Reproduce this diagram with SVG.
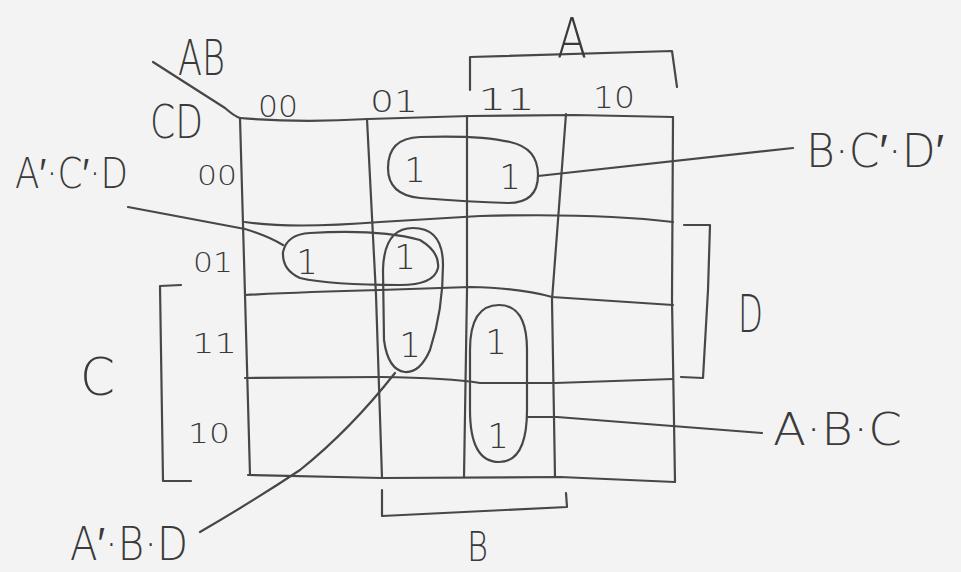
<svg xmlns="http://www.w3.org/2000/svg" width="961" height="572" viewBox="0 0 961 572">
<style>
.ink{fill:none;stroke:#474747;stroke-width:2.2;stroke-linecap:round;stroke-linejoin:round}
.t{font-family:"DejaVu Sans","Liberation Sans",sans-serif;font-weight:200;fill:#3a3a3a}
.one{font-size:34px}
.hd{font-size:30px}
.rw{font-size:26px}
</style>
<rect x="0" y="0" width="961" height="572" fill="#f3f3f3"/>
<g id="grid">
<path class="ink" d="M240,118 Q300,123 368,119 L470,116 L575,115 L673,117"/>
<path class="ink" d="M240,118 L245,295 L250,475"/>
<path class="ink" d="M367,119 L376,295 L382,478"/>
<path class="ink" d="M467,116 L467,290 L464,477"/>
<path class="ink" d="M566,114 L552,300 L555,477"/>
<path class="ink" d="M673,117 L672,300 L675,482"/>
<path class="ink" d="M245,222 Q290,229 380,222 L480,216 Q600,213 673,222"/>
<path class="ink" d="M245,295 Q300,292 380,290 L470,287 Q520,288 552,297 L673,305"/>
<path class="ink" d="M245,378 L380,377 Q450,378 480,383 L555,383 Q620,381 673,379"/>
<path class="ink" d="M248,475 L382,478 L560,477 L675,482"/>
<path class="ink" d="M153,62 Q200,92 225,108 Q234,116 240,118"/>
</g>
<g id="brackets">
<path class="ink" d="M470,90 L470,57 Q570,54 672,51 L677,87"/>
<path class="ink" d="M684,225 L710,225 L708,290 L703,378 L681,377"/>
<path class="ink" d="M181,285 L160,286 L163,481 L191,481"/>
<path class="ink" d="M382,490 L382,516 Q470,512 567,507 L566,493"/>
</g>
<g id="headers">
<text class="t" x="178" y="75" font-size="50" textLength="47" lengthAdjust="spacingAndGlyphs">AB</text>
<text class="t" x="150" y="138" font-size="46" textLength="53" lengthAdjust="spacingAndGlyphs">CD</text>
<text class="t hd" x="258" y="117" textLength="40" lengthAdjust="spacingAndGlyphs">00</text>
<text class="t hd" x="370" y="112" textLength="48" lengthAdjust="spacingAndGlyphs">01</text>
<text class="t hd" x="478" y="110" textLength="57" lengthAdjust="spacingAndGlyphs">11</text>
<text class="t hd" x="593" y="108" textLength="42" lengthAdjust="spacingAndGlyphs">10</text>
<text class="t rw" x="197" y="185" textLength="40" lengthAdjust="spacingAndGlyphs">00</text>
<text class="t rw" x="193" y="272" textLength="40" lengthAdjust="spacingAndGlyphs">01</text>
<text class="t rw" x="192" y="353" textLength="45" lengthAdjust="spacingAndGlyphs">11</text>
<text class="t rw" x="188" y="443" textLength="42" lengthAdjust="spacingAndGlyphs">10</text>
<text class="t" x="557" y="57" font-size="56" textLength="30" lengthAdjust="spacingAndGlyphs">A</text>
<text class="t" x="738" y="332" font-size="52" textLength="25" lengthAdjust="spacingAndGlyphs">D</text>
<text class="t" x="80" y="395" font-size="52" textLength="35" lengthAdjust="spacingAndGlyphs">C</text>
<text class="t" x="467" y="561" font-size="40" textLength="21" lengthAdjust="spacingAndGlyphs">B</text>
</g>
<g id="cells">
<text class="t one" x="415" y="182" text-anchor="middle">1</text>
<text class="t one" x="510" y="189" text-anchor="middle">1</text>
<text class="t one" x="307" y="274" text-anchor="middle">1</text>
<text class="t one" x="405" y="269" text-anchor="middle">1</text>
<text class="t one" x="410" y="357" text-anchor="middle">1</text>
<text class="t one" x="496" y="354" text-anchor="middle">1</text>
<text class="t one" x="498" y="448" text-anchor="middle">1</text>
</g>
<g id="loop-bcd">
<path class="ink" d="M420,137 Q480,135 510,142 Q538,148 538,175 Q538,203 508,203 Q470,202 420,198 Q388,195 388,168 Q388,138 420,137 Z"/>
<text class="t" x="806" y="167" font-size="46" textLength="138" lengthAdjust="spacingAndGlyphs">B·C′·D′</text>
</g>
<g id="loop-acd">
<path class="ink" d="M310,233 Q380,229 420,240 Q440,252 438,268 Q434,285 400,285 Q330,285 300,278 Q282,270 283,252 Q287,234 310,233 Z"/>
<text class="t" x="15" y="188" font-size="43" textLength="113" lengthAdjust="spacingAndGlyphs">A′·C′·D</text>
</g>
<g id="loop-abd">
<path class="ink" d="M413,228 Q443,228 443,265 Q443,310 430,350 Q420,373 405,372 Q388,370 384,340 L383,270 Q384,228 413,228 Z"/>
<text class="t" x="70" y="560" font-size="46" textLength="118" lengthAdjust="spacingAndGlyphs">A′·B·D</text>
</g>
<g id="loop-abc">
<path class="ink" d="M499,305 Q527,305 527,350 L527,410 Q527,462 499,462 Q470,462 470,410 L470,350 Q470,305 499,305 Z"/>
<text class="t" x="773" y="445" font-size="45" textLength="129" lengthAdjust="spacingAndGlyphs">A·B·C</text>
</g>
<g id="connectors">
<path class="ink" d="M538,176 L793,148"/>
<path class="ink" d="M128,207 L245,229 Q268,236 283,245"/>
<path class="ink" d="M395,373 Q350,430 300,470 Q255,500 200,532"/>
<path class="ink" d="M527,417 L557,417 L762,433"/>
</g>
</svg>
